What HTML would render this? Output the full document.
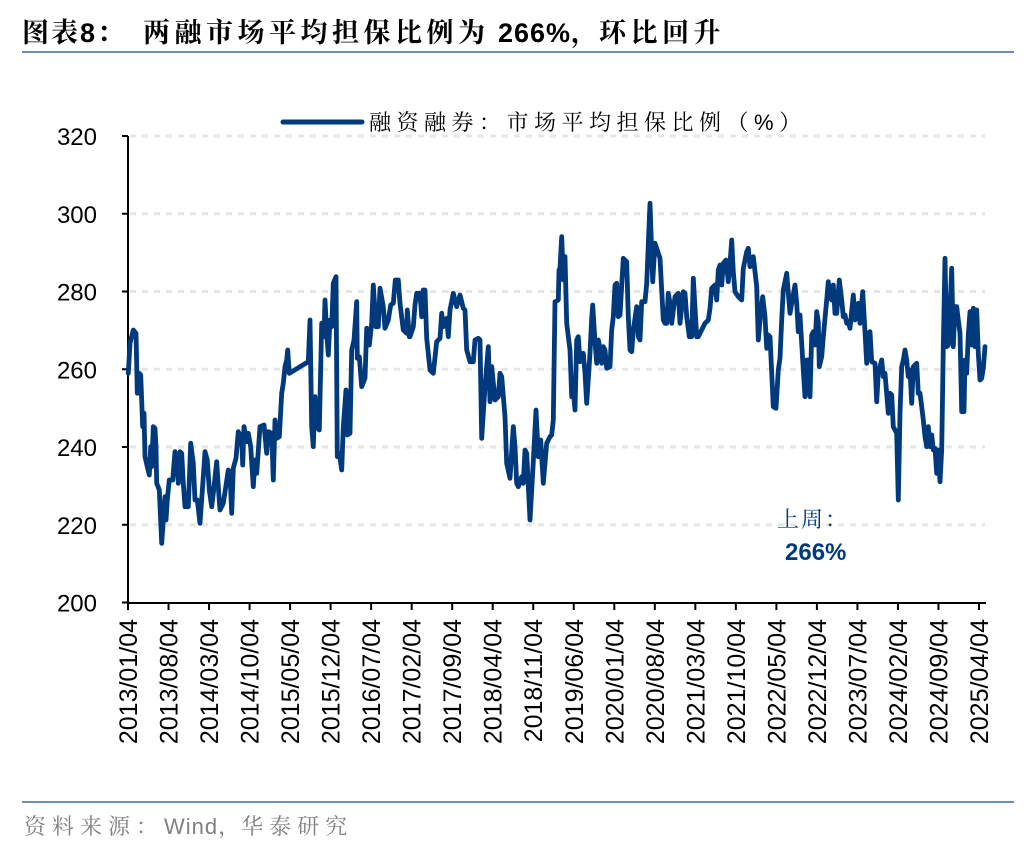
<!DOCTYPE html>
<html><head><meta charset="utf-8"><style>
html,body{margin:0;padding:0;background:#fff;}
body{width:1036px;height:852px;overflow:hidden;position:relative;}
svg{position:absolute;left:0;top:0;}
</style></head><body>
<svg id="s" width="1036" height="852" xmlns="http://www.w3.org/2000/svg" font-family="'Liberation Sans','Noto Sans CJK SC',sans-serif">
<text x="22" y="42" font-size="27" font-weight="bold" fill="#000" font-family="'Liberation Sans','Noto Serif CJK SC',serif"><tspan letter-spacing="2">图表8：</tspan><tspan x="143" letter-spacing="4.5">两融市场平均担保比例为</tspan><tspan letter-spacing="1"> 266%，</tspan><tspan letter-spacing="4.5">环比回升</tspan></text>
<line x1="22" y1="52" x2="1014" y2="52" stroke="#6f8fb8" stroke-width="2"/>
<line x1="22" y1="802" x2="1014" y2="802" stroke="#6f8fb8" stroke-width="2"/>
<text x="24" y="834" font-size="22" fill="#808080" font-family="'Liberation Sans','Noto Serif CJK SC',serif"><tspan letter-spacing="6">资料来源：</tspan><tspan letter-spacing="1">Wind，</tspan><tspan letter-spacing="6">华泰研究</tspan></text>
<g id="grid" stroke="#e6e6e6" stroke-width="3" stroke-dasharray="6,6"></g>
<g id="axes" stroke="#000" stroke-width="2"></g>
<g id="lbl" fill="#000"></g>
<line x1="283" y1="122" x2="362" y2="122" stroke="#003a7d" stroke-width="5" stroke-linecap="round"/>
<text x="369" y="130" font-size="22" fill="#000" letter-spacing="5.5" font-family="'Liberation Sans','Noto Serif CJK SC',serif">融资融券：市场平均担保比例（%）</text>
<path id="ln" fill="none" stroke="#003a7d" stroke-width="4.8" stroke-linejoin="round" stroke-linecap="round"/>
<text x="777" y="527" font-size="22" fill="#003a7d" letter-spacing="2" font-family="'Liberation Sans','Noto Serif CJK SC',serif">上周：</text>
<text x="785" y="560" font-size="24" font-weight="bold" fill="#003a7d">266%</text>
</svg>
<script>
var NS="http://www.w3.org/2000/svg";
function el(t,a,p,txt){var e=document.createElementNS(NS,t);for(var k in a)e.setAttribute(k,a[k]);if(txt)e.textContent=txt;document.getElementById(p).appendChild(e);return e;}
function Y(v){return 602.5-(v-200)*3.8875;}
for(var v=220;v<=320;v+=20){el('line',{x1:130,x2:985,y1:Y(v),y2:Y(v)},'grid');}
for(var v=200;v<=320;v+=20){el('line',{x1:122,x2:128,y1:Y(v),y2:Y(v)},'axes');el('text',{x:97,y:Y(v)+9,'text-anchor':'end','font-size':24},'lbl',String(v));}
el('line',{x1:128,x2:128,y1:Y(320),y2:603},'axes');
el('line',{x1:127,x2:986,y1:603,y2:603},'axes');
var labs=["2013/01/04","2013/08/04","2014/03/04","2014/10/04","2015/05/04","2015/12/04","2016/07/04","2017/02/04","2017/09/04","2018/04/04","2018/11/04","2019/06/04","2020/01/04","2020/08/04","2021/03/04","2021/10/04","2022/05/04","2022/12/04","2023/07/04","2024/02/04","2024/09/04","2025/04/04"];
for(var i=0;i<labs.length;i++){var x=128+i*(979-128)/21;el('line',{x1:x,x2:x,y1:603,y2:610},'axes');
el('text',{x:0,y:0,'text-anchor':'end','font-size':25,transform:'translate('+(x+9)+',619) rotate(-90)'},'lbl',labs[i]);}
var z1=[[25,340],[30,250],[40,210],[48,220],[52,400],[58,340],[62,345],[68,500],[72,460],[75,590],[82,620],[88,645],[92,560],[95,620],[100,500],[105,505],[108,560],[110,670],[118,690],[125,850],[135,710],[138,780],[142,720],[148,660],[158,660],[165,575],[172,620],[175,670],[180,575],[185,580],[190,670],[195,740],[205,740],[212,550],[220,610],[225,720],[232,720],[240,790],[250,650],[255,575],[262,600],[268,690],[275,740],[280,700],[290,605],[295,680],[300,750],[310,730],[325,630],[330,640],[335,760],[340,625],[348,595],[355,515],[365,535],[368,615],[372,500],[380,545],[385,520],[392,560],[400,680],[405,600],[410,640],[420,500],[432,495],[440,580],[445,515],[455,520],[460,660],[465,480],[470,535],[478,530],[485,400],[490,370],[495,320],[500,300],[503,270],[508,340],[565,305],[570,180],[575,500],[580,560],[585,410],[590,500],[598,510],[605,190],[610,190],[612,230],[615,120],[620,220],[625,285],[630,180],[635,200],[640,70],[648,50],[652,590],[658,580],[665,630],[670,500],[678,390],[682,525],[690,520],[695,270],[702,240],[710,125],[712,295],[718,290],[725,380],[735,355],[740,205],[748,255],[755,190],[760,75],[768,200],[775,200],[780,85],[790,140],[795,205],[805,180],[812,135],[820,130],[826,60],[835,60],[840,130],[850,210],[860,220],[862,150],[868,230]];
var z2=[[0,440],[10,410],[15,345],[20,310],[30,310],[35,380],[40,300],[45,300],[50,445],[60,540],[70,550],[80,455],[90,445],[95,370],[100,410],[110,385],[115,440],[120,360],[130,310],[140,350],[150,315],[160,355],[165,360],[170,480],[180,515],[190,515],[195,450],[205,445],[210,450],[215,745],[225,590],[235,470],[240,635],[245,530],[255,630],[265,620],[270,550],[275,560],[285,680],[290,820],[300,865],[310,710],[315,770],[320,880],[325,890],[335,860],[340,880],[345,780],[350,790],[360,990],[370,815],[378,660],[385,800],[392,750],[400,880],[410,760],[420,740],[425,735],[430,690],[435,335],[445,330],[447,240],[450,235],[455,140],[460,270],[465,200],[470,400],[480,480],[485,620],[490,600],[495,660],[500,450],[505,440],[510,515],[520,490],[525,550],[530,640],[540,490],[545,385],[548,345],[555,455],[560,520],[565,450],[570,475],[575,520],[580,470],[585,480],[590,535],[600,530],[605,420],[610,380],[615,285],[620,280],[625,380],[630,375],[640,205],[650,215],[655,380],[660,480],[665,485],[670,420],[680,350],[685,440],[690,450],[695,335],[705,335],[710,280],[720,40],[728,275],[735,160],[745,190],[750,205],[755,300],[760,390],[765,400],[770,400],[775,310],[780,340],[785,400],[795,320],[805,310],[810,400],[820,305],[825,310],[830,380],[838,440],[845,440],[850,265],[860,440],[865,440]];
var z3=[[15,310],[25,300],[30,265],[35,205],[45,195],[50,240],[55,150],[60,135],[65,195],[70,130],[78,120],[85,185],[90,130],[95,60],[100,155],[105,215],[115,230],[125,240],[130,145],[140,95],[145,85],[150,140],[160,110],[170,200],[175,360],[180,300],[188,230],[195,290],[200,385],[205,345],[210,350],[220,560],[228,565],[235,450],[240,415],[245,300],[250,210],[260,160],[270,280],[275,250],[285,195],[290,250],[295,335],[300,285],[310,450],[315,530],[320,420],[325,420],[330,530],[335,345],[340,335],[345,375],[350,275],[355,305],[358,440],[365,410],[370,350],[380,240],[385,185],[390,230],[395,240],[400,195],[405,280],[410,280],[418,180],[425,240],[430,290],[435,285],[440,310],[445,305],[450,325],[460,225],[465,300],[470,290],[475,250],[480,310],[488,215],[495,335],[500,430],[505,340],[510,335],[515,425],[525,430],[530,545],[535,460],[545,420],[550,470],[555,460],[565,580],[570,520],[575,525],[580,620],[590,640],[595,840],[600,580],[605,440],[610,420],[615,390],[620,420],[625,470],[630,450],[635,550],[640,440],[645,435],[650,430],[655,520],[660,520],[665,560],[670,600],[675,650],[680,680],[685,620],[690,680],[695,645],[700,690],[705,685],[710,760],[715,690],[720,785],[725,690],[730,380],[735,115],[740,380],[745,375],[750,270],[755,145],[760,380],[765,260],[770,260],[775,300],[780,340],[785,575],[792,575],[795,420],[800,460],[805,345],[810,275],[815,375],[820,265],[825,380],[830,270],[835,400],[840,480],[845,475],[850,445],[855,380]];
var pts=[];
z1.forEach(function(p){pts.push([120+p[0]/3,260+p[1]/3]);});
z2.forEach(function(p){pts.push([410+p[0]/3,190+p[1]/3]);});
z3.forEach(function(p){pts.push([700+p[0]/3,220+p[1]/3]);});
var d=pts.map(function(p,i){return (i?'L':'M')+p[0].toFixed(1)+' '+p[1].toFixed(1);}).join('');
document.getElementById('ln').setAttribute('d',d);
</script>
</body></html>
